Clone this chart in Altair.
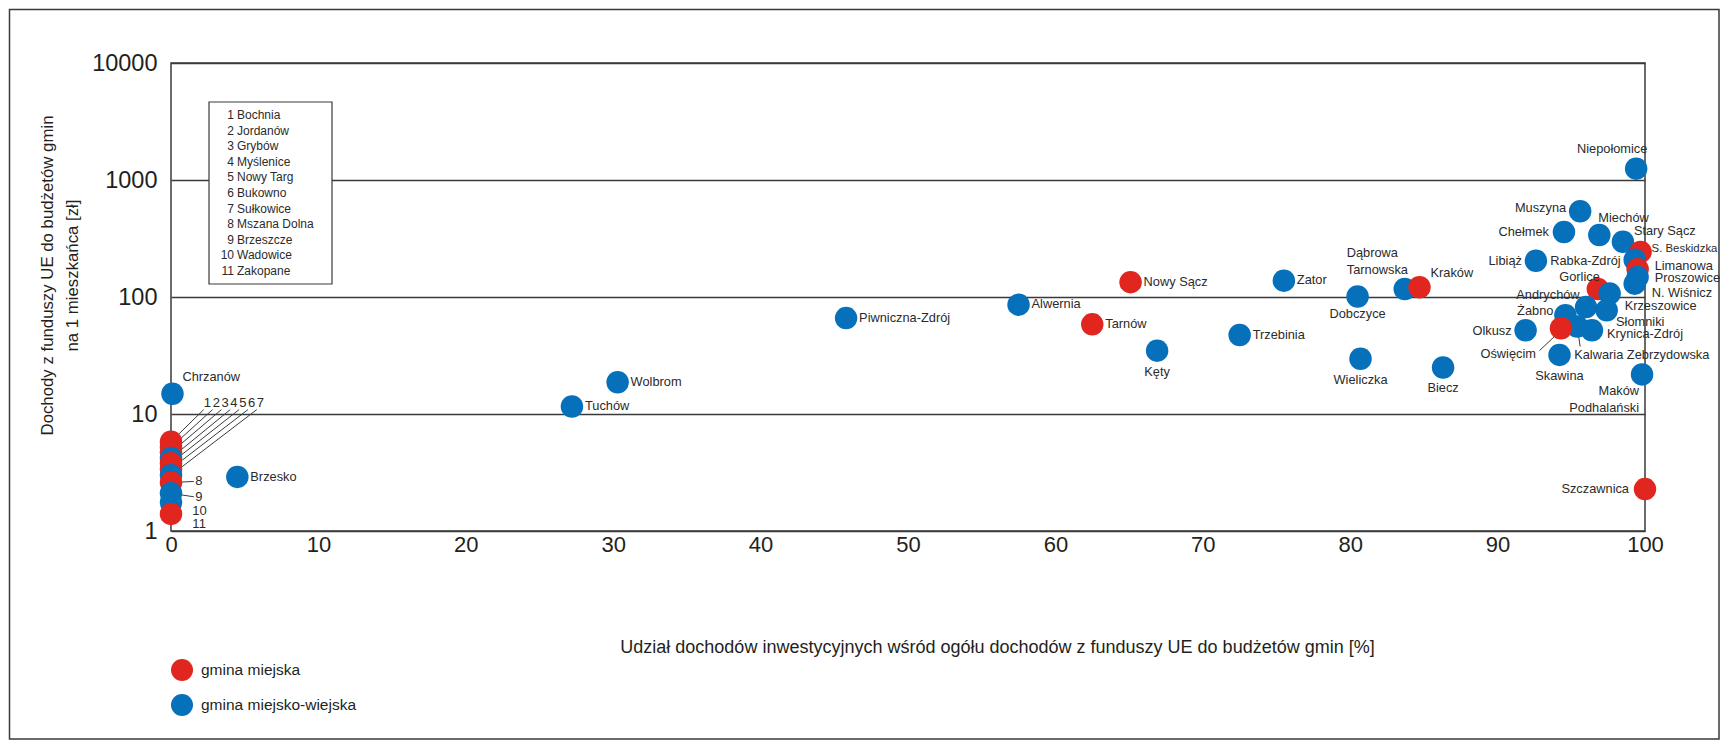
import altair as alt
import pandas as pd

FONT = "Liberation Sans, Arial, sans-serif"
INK = "#231f20"
LINE = "#3a3a3a"

# ---------------- data ----------------
M = "gmina miejska"
W = "gmina miejsko-wiejska"

names = ["Bochnia", "Jordanów", "Grybów", "Myślenice", "Nowy Targ", "Bukowno", "Sułkowice",
         "Mszana Dolna", "Brzeszcze", "Wadowice", "Zakopane",
         "Chrzanów", "Brzesko", "Tuchów", "Wolbrom", "Piwniczna-Zdrój", "Alwernia", "Tarnów",
         "Nowy Sącz", "Kęty", "Trzebinia", "Zator", "Wieliczka", "Dobczyce", "Dąbrowa Tarnowska",
         "Kraków", "Biecz", "Olkusz", "Skawina", "Libiąż", "Chełmek", "Muszyna", "Miechów",
         "Niepołomice", "Gorlice", "Andrychów", "Żabno", "Słomniki", "Krzeszowice",
         "Kalwaria Zebrzydowska", "Krynica-Zdrój", "Oświęcim", "Stary Sącz", "S. Beskidzka",
         "Rabka-Zdrój", "Limanowa", "Proszowice", "N. Wiśnicz", "Maków Podhalański", "Szczawnica"]

kinds = [M, M, M, W, M, M, W, M, W, W, M,
         W, W, W, W, W, W, M,
         M, W, W, W, W, W, W,
         M, W, W, W, W, W, W, W,
         W, M, W, W, W, W,
         W, W, M, W, M,
         W, M, W, W, W, M]

share = [0, 0, 0, 0, 0, 0, 0, 0, 0, 0, 0,
         0.1, 4.5, 27.2, 30.3, 45.8, 57.5, 62.5,
         65.1, 66.9, 72.5, 75.5, 80.7, 80.5, 83.7,
         84.7, 86.3, 91.9, 94.2, 92.6, 94.5, 95.6, 96.9,
         99.4, 96.8, 97.6, 94.6, 96.0, 97.4,
         95.4, 96.4, 94.3, 98.5, 99.7,
         99.3, 99.5, 99.5, 99.3, 99.8, 100.0]

income = [5.8, 5.2, 4.7, 4.2, 3.8, 3.4, 3.0, 2.6, 2.1, 1.75, 1.4,
          14.9, 2.9, 11.6, 18.7, 66, 86, 58.4,
          134, 34.8, 47.4, 138, 29.7, 101, 117,
          121, 25, 52, 32, 204, 359, 541, 339,
          1250, 117, 107, 70, 82, 77,
          56, 52, 54, 297, 243,
          208, 173, 148, 130, 21.8, 2.28]

key_numbers = [str(i) for i in range(1, 12)]
key_names = names[:11]

x_ticks = list(range(0, 101, 10))
y_ticks = [1, 10, 100, 1000, 10000]

# ---------------- label placement (pixel offsets, kept apart from the data) ----------------
label_text = ["Chrzanów", "Brzesko", "Tuchów", "Wolbrom", "Piwniczna-Zdrój", "Alwernia", "Tarnów",
              "Nowy Sącz", "Kęty", "Trzebinia", "Zator", "Wieliczka", "Dobczyce", "Dąbrowa",
              "Tarnowska", "Kraków", "Biecz", "Olkusz", "Skawina", "Libiąż", "Chełmek", "Muszyna",
              "Miechów", "Niepołomice", "Gorlice", "Andrychów", "Żabno", "Słomniki", "Krzeszowice",
              "Kalwaria Zebrzydowska", "Krynica-Zdrój", "Oświęcim", "Stary Sącz", "S. Beskidzka",
              "Rabka-Zdrój", "Limanowa", "Proszowice", "N. Wiśnicz", "Maków", "Podhalański",
              "Szczawnica"]
label_anchor = ["Chrzanów", "Brzesko", "Tuchów", "Wolbrom", "Piwniczna-Zdrój", "Alwernia", "Tarnów",
                "Nowy Sącz", "Kęty", "Trzebinia", "Zator", "Wieliczka", "Dobczyce", "Dąbrowa Tarnowska",
                "Dąbrowa Tarnowska", "Kraków", "Biecz", "Olkusz", "Skawina", "Libiąż", "Chełmek",
                "Muszyna", "Miechów", "Niepołomice", "Gorlice", "Andrychów", "Żabno", "Słomniki",
                "Krzeszowice", "Kalwaria Zebrzydowska", "Krynica-Zdrój", "Oświęcim", "Stary Sącz",
                "S. Beskidzka", "Rabka-Zdrój", "Limanowa", "Proszowice", "N. Wiśnicz",
                "Maków Podhalański", "Maków Podhalański", "Szczawnica"]
label_dx = [10, 13, 13, 13, 13, 13, 13,
            13, 0, 13, 13, 0, 0, -58,
            -58, 11, 0, -14, 0, -14, -15, -14,
            -1, -24, 2, -30, -12, 30, 18,
            -3, 15, -25, 11, 11,
            -14, 17, 17, 17, -3, -3,
            -16]
label_dy = [-17, 0, 0, 0, 0, -1, 0,
            0, 21, 0, -1, 21, 18, -36,
            -19, -14, 21, 1, 21, 0, 0, -3,
            -17, -20, -12, 1, -4, 15, -4,
            29, 4, 26, -11, -3,
            1, -3, 1, 9, 17, 34,
            0]
label_align = ["left", "left", "left", "left", "left", "left", "left",
               "left", "center", "left", "left", "center", "center", "left",
               "left", "left", "center", "right", "center", "right", "right", "right",
               "left", "center", "right", "right", "right", "left", "left",
               "left", "left", "right", "left", "left",
               "right", "left", "left", "left", "right", "right",
               "right"]
# font size per label (the one at the very right edge is a little smaller so it fits)
label_size = [12.8] * len(label_text)
label_size[label_text.index("S. Beskidzka")] = 11.4

# annotation tags for the points stacked at 0 %
tag_x = [2.47, 3.07, 3.67, 4.27, 4.87, 5.47, 6.07, 1.65, 1.65, 1.45, 1.45]
tag_y = [12.5, 12.5, 12.5, 12.5, 12.5, 12.5, 12.5, 2.65, 1.96, 1.48, 1.14]
tag_align = ["center"] * 7 + ["left"] * 4

# leader lines: from point to tag / label
lead_from = names[:9] + ["Oświęcim", "Kalwaria Zebrzydowska"]
lead_x2 = [2.22, 2.82, 3.42, 4.02, 4.62, 5.22, 5.82, 1.55, 1.55, 92.84, 95.6]
lead_y2 = [10.9] * 7 + [2.65, 1.96, 34.8, 37.8]

# ---------------- geometry ----------------
W_PX, H_PX = 1474, 468
PX_PER_UNIT = W_PX / 100.0
PX_PER_DECADE = H_PX / 4.0

# ---------------- tables ----------------
pts = pd.DataFrame({"name": names, "kind": kinds, "share": share, "income": income})

labels = pd.DataFrame({"label": label_text, "name": label_anchor, "dx": label_dx,
                       "dy": label_dy, "align": label_align, "fs": label_size}).merge(
    pts[["name", "share", "income"]], on="name", how="left")
# shift label anchors by the pixel offsets (through the scales' pixel density)
labels["share"] = labels["share"] + labels["dx"] / PX_PER_UNIT
labels["income"] = labels["income"] * 10 ** (-labels["dy"] / PX_PER_DECADE)

tags = pd.DataFrame({"tag": key_numbers, "share": tag_x, "income": tag_y, "align": tag_align})

lead = pd.DataFrame({"name": lead_from, "share2": lead_x2, "income2": lead_y2}).merge(
    pts[["name", "share", "income"]], on="name", how="left")
lead.loc[lead["name"] == "Oświęcim", ["share", "income"]] = [93.97, 47.4]
lead.loc[lead["name"] == "Kalwaria Zebrzydowska", ["share", "income"]] = [95.5, 45.9]

key_df = pd.DataFrame({"nums": ["\n".join(key_numbers)],
                       "names": ["\n".join(key_names)]})

# ---------------- scales / axes ----------------
xscale = alt.Scale(domain=[0, 100], nice=False, zero=False)
yscale = alt.Scale(type="log", domain=[1, 10000], nice=False)

xaxis = alt.Axis(values=x_ticks, grid=False, ticks=False, domain=False,
                 labelFont=FONT, labelFontSize=22, labelColor=INK, labelPadding=3,
                 labelFlush=False, labelOverlap=False,
                 title="Udział dochodów inwestycyjnych wśród ogółu dochodów z funduszy UE do budżetów gmin [%]",
                 titleFont=FONT, titleFontSize=18, titleFontWeight="normal", titleColor=INK,
                 titleX=826, titleY=116, titleAlign="center", titleBaseline="middle")

yaxis = alt.Axis(values=y_ticks, format="d", grid=True, gridColor=LINE, gridWidth=1.5,
                 ticks=False, domain=False, labelFont=FONT, labelFontSize=23.5, labelColor=INK,
                 labelPadding=14, labelFlush=False, labelOverlap=False,
                 title=["Dochody z funduszy UE do budżetów gmin", "na 1 mieszkańca [zł]"],
                 titleFont=FONT, titleFontSize=16.8, titleFontWeight="normal", titleColor=INK,
                 titleX=-124, titleY=212, titleAngle=270, titleAlign="center",
                 titleBaseline="middle", titleLineHeight=25)

X = alt.X("share:Q", scale=xscale, axis=xaxis)
Y = alt.Y("income:Q", scale=yscale, axis=yaxis)

# ---------------- layers ----------------
border = alt.Chart(pd.DataFrame({"k": [0]})).mark_rect(
    filled=False, stroke=LINE, strokeWidth=1.5).encode(
    x=alt.value(-161.5), x2=alt.value(1548), y=alt.value(-53.5), y2=alt.value(676))

leaders = alt.Chart(lead).mark_rule(color=LINE, strokeWidth=1).encode(
    x=X, y=Y, x2="share2:Q", y2="income2:Q")

points = alt.Chart(pts).mark_circle(size=506, opacity=1).encode(
    x=X, y=Y,
    color=alt.Color("kind:N",
                    scale=alt.Scale(domain=[M, W], range=["#e0261e", "#0670bb"]),
                    legend=alt.Legend(orient="none", legendX=0, legendY=596, title=None,
                                      labelFont=FONT, labelFontSize=15.5, labelColor=INK,
                                      labelLimit=400,
                                      symbolSize=484, symbolType="circle", symbolOpacity=1,
                                      symbolStrokeWidth=0, rowPadding=13, padding=0,
                                      labelOffset=8)))


def label_layer(al):
    return alt.Chart(labels).transform_filter(alt.datum.align == al).mark_text(
        align=al, baseline="middle", font=FONT, color="#2b2b2b").encode(
        x=X, y=Y, text="label:N", size=alt.Size("fs:Q", scale=None))


def tag_layer(al):
    return alt.Chart(tags).transform_filter(alt.datum.align == al).mark_text(
        align=al, baseline="middle", font=FONT, fontSize=13, color="#2b2b2b").encode(
        x=X, y=Y, text="tag:N")


key_box = alt.Chart(pd.DataFrame({"k": [0]})).mark_rect(
    fill="white", stroke=LINE, strokeWidth=1.2).encode(
    x=alt.value(38), x2=alt.value(161), y=alt.value(39), y2=alt.value(221))

key_nums = alt.Chart(key_df).mark_text(
    align="right", baseline="top", lineBreak="\n", lineHeight=15.6,
    font=FONT, fontSize=12, color="#2b2b2b").encode(
    x=alt.value(63), y=alt.value(47), text="nums:N")

key_names_t = alt.Chart(key_df).mark_text(
    align="left", baseline="top", lineBreak="\n", lineHeight=15.6,
    font=FONT, fontSize=12, color="#2b2b2b").encode(
    x=alt.value(66), y=alt.value(47), text="names:N")

chart = alt.layer(
    border, leaders, points,
    label_layer("left"), label_layer("center"), label_layer("right"),
    tag_layer("left"), tag_layer("center"),
    key_box, key_nums, key_names_t,
).properties(
    width=W_PX, height=H_PX,
    padding={"left": 163, "top": 55, "right": 75, "bottom": 211},
    autosize=alt.AutoSizeParams(type="none"),
    background="white",
).configure_view(stroke=LINE, strokeWidth=1.5)

chart.save("out.html", embed_options={"renderer": "svg", "actions": False})
